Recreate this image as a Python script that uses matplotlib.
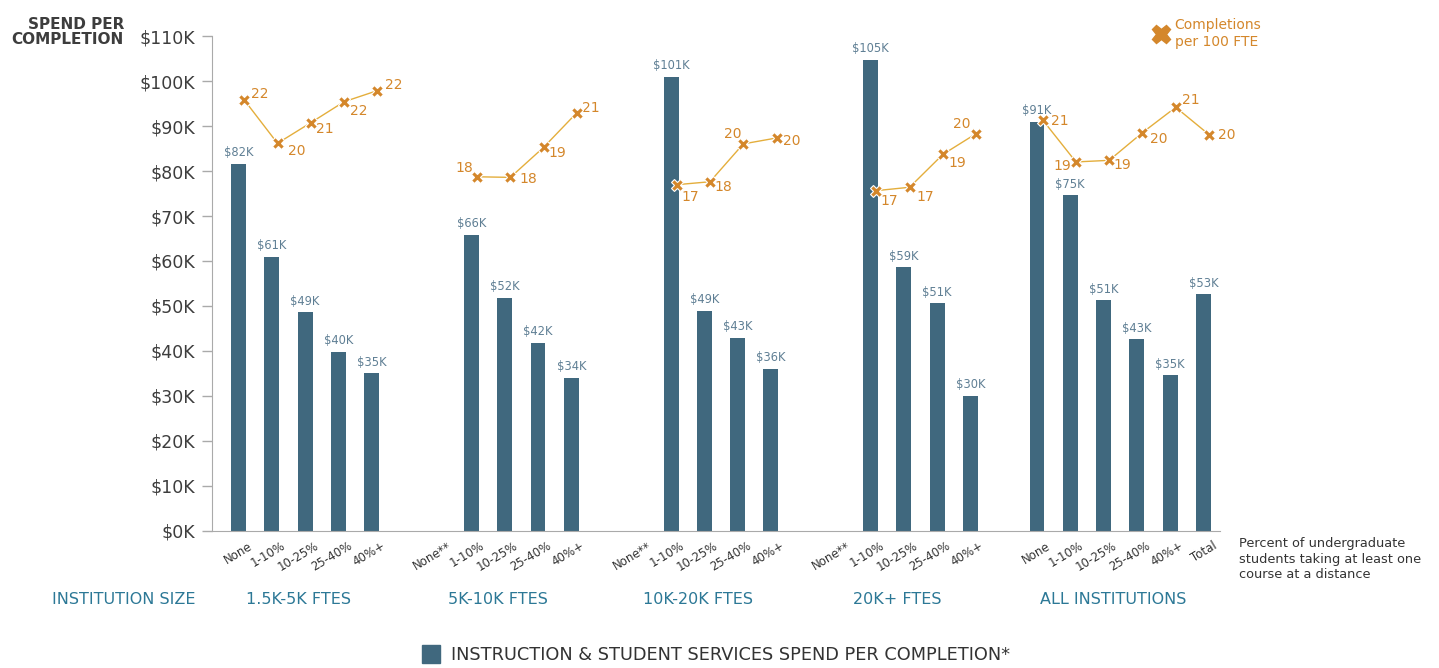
import numpy as np
import matplotlib.pyplot as plt
import matplotlib.transforms as mtransforms
from matplotlib.patches import Patch
from matplotlib.lines import Line2D

plt.rcParams['font.family'] = ['DejaVu Sans']

groups = ['1.5K-5K FTES', '5K-10K FTES', '10K-20K FTES', '20K+ FTES', 'ALL INSTITUTIONS']
cats = [
    ['None', '1-10%', '10-25%', '25-40%', '40%+'],
    ['None**', '1-10%', '10-25%', '25-40%', '40%+'],
    ['None**', '1-10%', '10-25%', '25-40%', '40%+'],
    ['None**', '1-10%', '10-25%', '25-40%', '40%+'],
    ['None', '1-10%', '10-25%', '25-40%', '40%+', 'Total'],
]
# spend per completion, $K (None = no data)
spend = [
    [81.6, 60.9, 48.6, 39.8, 35.1],
    [None, 65.8, 51.8, 41.8, 34.0],
    [None, 100.9, 48.9, 42.9, 36.0],
    [None, 104.7, 58.6, 50.6, 30.0],
    [90.9, 74.6, 51.3, 42.6, 34.6, 52.6],
]
# completions per 100 FTE
compl = [
    [21.77, 19.58, 20.62, 21.68, 22.24],
    [None, 17.89, 17.86, 19.38, 21.13],
    [None, 17.49, 17.64, 19.55, 19.85],
    [None, 17.19, 17.36, 19.02, 20.07],
    [20.76, 18.64, 18.72, 20.12, 21.40, 20.02],
]
# label offsets for the completion numbers (pixels, dx right / dy down)
lab_off = [
    [(16, -6), (19, 8), (14, 6), (15, 9), (16, -6)],
    [None, (-13, -9), (18, 2), (14, 6), (14, -5)],
    [None, (14, 12), (13, 5), (-11, -10), (15, 3)],
    [None, (13, 10), (16, 10), (14, 9), (-14, -10)],
    [(17, 1), (-14, 4), (13, 5), (16, 6), (15, -7), (18, 0)],
]

bar_c = '#40687e'
bar_lab_c = '#5f7f94'
orange = '#d4872b'
line_c = '#e4ae3c'
teal = '#2c7896'
dark = '#3d3d3d'

fig = plt.figure(figsize=(14.39, 6.68), dpi=100)
ax = fig.add_axes([0.1473, 0.2051, 0.7005, 0.741])
ax2 = ax.twinx()
lab_tr = mtransforms.blended_transform_factory(ax.transData, fig.transFigure)

xticks, xlabels = [], []
for g in range(len(groups)):
    xs = [6 * g + j for j in range(len(cats[g]))]
    xticks += xs
    xlabels += cats[g]
    for x, v in zip(xs, spend[g]):
        if v is None:
            continue
        ax.bar(x, v, width=0.45, color=bar_c, zorder=2)
        ax.text(x, v + 1.0, '$%dK' % round(v), ha='center', va='bottom',
                fontsize=8.3, color=bar_lab_c)
    lx = [x + 0.17 for x, c in zip(xs, compl[g]) if c is not None]
    ly = [c for c in compl[g] if c is not None]
    offs = [o for o in lab_off[g] if o is not None]
    ax2.plot(lx, ly, color=line_c, lw=1.0, zorder=3)
    ax2.plot(lx, ly, ls='none', marker='X', ms=9, mfc=orange, mec='white',
             mew=0.8, zorder=4)
    for x, c, (dx, dy) in zip(lx, ly, offs):
        ax2.annotate('%d' % round(c), (x, c), xytext=(dx * 0.72, -dy * 0.72),
                     textcoords='offset points', ha='center', va='center',
                     fontsize=10, color=orange)
    fig.text(6 * g + (len(cats[g]) - 1) / 2 - 0.2, 0.1018, groups[g], color=teal,
             fontsize=11.5, ha='center', va='center', transform=lab_tr)

ax.set_xlim(-0.8, 29.5)
ax.set_ylim(0, 110)
ax2.set_ylim(0, 25)
ax2.axis('off')

yt = np.arange(0, 111, 10)
ax.set_yticks(yt)
ax.set_yticklabels(['$%dK' % v for v in yt], fontsize=12.5, color=dark)
ax.tick_params(axis='y', length=7, width=1, color='#aaaaaa', pad=5)
ax.set_xticks(xticks)
ax.set_xticklabels(xlabels, rotation=31, ha='right', va='top',
                   rotation_mode='anchor', fontsize=8.5, color='#333333')
ax.tick_params(axis='x', length=0, pad=6)
shift = mtransforms.ScaledTranslation(9 / 100, 0, fig.dpi_scale_trans)
for t in ax.get_xticklabels():
    t.set_transform(t.get_transform() + shift)

for s in ['top', 'right']:
    ax.spines[s].set_visible(False)
ax.spines['left'].set_color('#aaaaaa')
ax.spines['bottom'].set_color('#aaaaaa')

fig.text(124 / 1439, 1 - 32 / 668, 'SPEND PER\nCOMPLETION', ha='right', va='center',
         fontsize=11, fontweight='bold', color=dark, linespacing=0.95)
fig.text(124 / 1439, 0.1018, 'INSTITUTION SIZE', ha='center', va='center',
         fontsize=11.5, color=teal)
fig.text(1239 / 1439, 1 - 559 / 668,
         'Percent of undergraduate\nstudents taking at least one\ncourse at a distance',
         ha='left', va='center', fontsize=9.3, color='#333333', linespacing=1.2)

fig.legend(handles=[Line2D([], [], ls='none', marker='X', ms=13, color=orange)],
           labels=['Completions\nper 100 FTE'], loc='upper left',
           bbox_to_anchor=(1140 / 1439, 1 - 6 / 668), frameon=False,
           labelcolor=orange, fontsize=10, handletextpad=0.4,
           handlelength=1.2)
fig.legend(handles=[Patch(color=bar_c)],
           labels=['INSTRUCTION & STUDENT SERVICES SPEND PER COMPLETION*'],
           loc='lower center', bbox_to_anchor=(0.4977, -0.018), frameon=False,
           fontsize=12.8, labelcolor='#333333', handlelength=1.0, handleheight=1.1,
           handletextpad=0.6)

fig.savefig('out.png', dpi=100)
